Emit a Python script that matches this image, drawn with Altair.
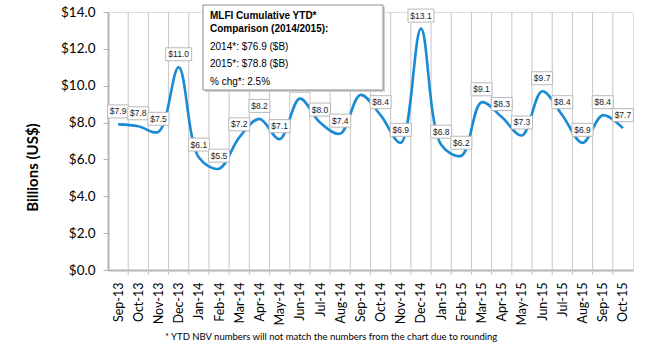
import altair as alt
import pandas as pd

months = ["Sep-13", "Oct-13", "Nov-13", "Dec-13", "Jan-14", "Feb-14", "Mar-14", "Apr-14",
          "May-14", "Jun-14", "Jul-14", "Aug-14", "Sep-14", "Oct-14", "Nov-14", "Dec-14",
          "Jan-15", "Feb-15", "Mar-15", "Apr-15", "May-15", "Jun-15", "Jul-15", "Aug-15",
          "Sep-15", "Oct-15"]
values = [7.9, 7.8, 7.5, 11.0, 6.1, 5.5, 7.2, 8.2, 7.1, 9.3, 8.0, 7.4, 9.5, 8.4, 6.9, 13.1,
          6.8, 6.2, 9.1, 8.3, 7.3, 9.7, 8.4, 6.9, 8.4, 7.7]
box_lines = ["MLFI Cumulative YTD*", "Comparison (2014/2015):",
             "2014*: $76.9 ($B)", "2015*: $78.8  ($B)", "% chg*: 2.5%"]
y_ticks = [0, 2, 4, 6, 8, 10, 12, 14]
footnote = "*  YTD NBV numbers will not match the numbers from the chart due to rounding"

n = len(months)
df = pd.DataFrame({"idx": list(range(n)), "month": months, "value": values,
                   "label": ["$" + f"{v:.1f}" for v in values]})
grid_df = pd.DataFrame({"idx": [i + 0.5 for i in range(n - 1)]})
one = pd.DataFrame({"a": [0]})

label_expr = "[" + ",".join(f"'{m}'" for m in months) + "][datum.value]"

xscale = alt.Scale(domain=[-0.5, n - 0.5], nice=False, zero=False)
yscale = alt.Scale(domain=[0, 14], nice=False)

x_axis = alt.Axis(values=list(range(n)), labelExpr=label_expr, labelAngle=270,
                  ticks=False, grid=False, title=None, domainColor="#b4b4b4",
                  domainWidth=2, labelFont="Lato", labelFontSize=12.5,
                  labelColor="#000000", labelPadding=12, labelAlign="right",
                  labelBaseline="middle", labelOverlap=False, labelFlush=False,
                  labelBound=False)
y_axis = alt.Axis(values=y_ticks, format="$.1f", grid=False,
                  domainColor="#b4b4b4", domainWidth=2, tickColor="#b4b4b4",
                  tickSize=5, tickWidth=1, labelFont="Lato", labelFontSize=13.5,
                  labelColor="#000000", labelPadding=8, labelOverlap=False,
                  labelFlush=False, labelBound=False,
                  title="Billions (US$)", titleFont="Lato", titleFontSize=15,
                  titleFontWeight="bold", titleColor="#000000", titleAngle=270,
                  titleX=-76, titleY=155, titleAlign="center",
                  titleBaseline="middle")

xq = alt.X("idx:Q", scale=xscale, axis=x_axis)
yq = alt.Y("value:Q", scale=yscale, axis=y_axis)

grid = alt.Chart(grid_df).mark_rule(color="#c6c6c6", strokeWidth=1, yOffset=5).encode(
    x=xq, y=alt.Y(datum=0, type="quantitative", scale=yscale, axis=y_axis),
    y2=alt.datum(14))

line = alt.Chart(df).mark_line(color="#1a8ad4", strokeWidth=2.6,
                               interpolate="catmull-rom").encode(x=xq, y=yq)

def label_boxes(cond, half):
    return alt.Chart(df).transform_filter(cond).mark_rect(
        fill="white", stroke="#b8b8b8", strokeWidth=1,
        xOffset=-half, x2Offset=half, yOffset=-19.5, y2Offset=-6.5).encode(
        x=xq, x2="idx", y=yq, y2="value")

boxes_short = label_boxes("length(datum.label) <= 4", 10.5)
boxes_long = label_boxes("length(datum.label) > 4", 13)

texts = alt.Chart(df).mark_text(font="Liberation Sans", fontSize=8.5, dy=-13,
                                baseline="middle", color="#222222").encode(
    x=xq, y=yq, text="label:N")

shadow = alt.Chart(one).mark_rect(fill="#d0d0d0").encode(
    x=alt.value(97), x2=alt.value(277), y=alt.value(-5), y2=alt.value(80))
box = alt.Chart(one).mark_rect(fill="white", stroke="#8c8c8c", strokeWidth=1).encode(
    x=alt.value(95), x2=alt.value(275), y=alt.value(-7), y2=alt.value(78))

line_y = [4, 17, 35, 52, 70]
box_texts = []
for i, (t, yy) in enumerate(zip(box_lines, line_y)):
    box_texts.append(alt.Chart(one).mark_text(
        text=t, font="Liberation Sans", fontSize=10,
        fontWeight="bold" if i < 2 else "normal", align="left", baseline="middle",
        color="#000000").encode(x=alt.value(102), y=alt.value(yy)))

foot = alt.Chart(one).mark_text(text=footnote, font="Lato", fontSize=9.5, align="left",
                                baseline="middle", color="#000000").encode(
    x=alt.value(57), y=alt.value(325))

chart = alt.layer(grid, line, boxes_short, boxes_long, texts, shadow, box, *box_texts,
                  foot).properties(
    width=525, height=258, autosize="none",
    padding={"left": 108, "top": 12, "right": 17, "bottom": 80}
).configure_view(stroke=None).configure(background="white")

chart.save("out.html", embed_options={"renderer": "svg", "actions": False})
